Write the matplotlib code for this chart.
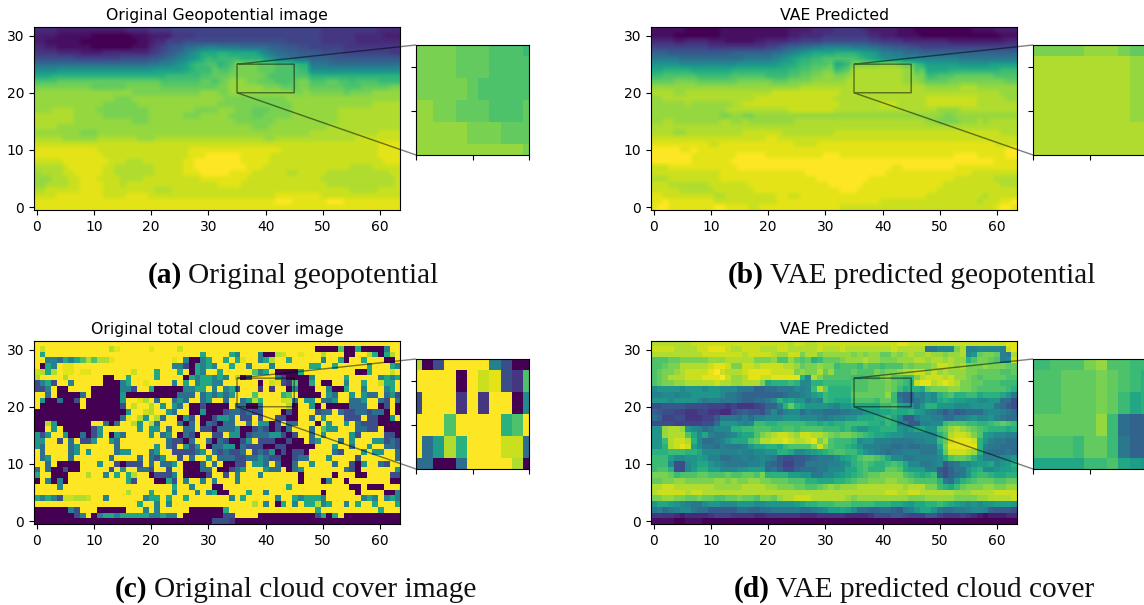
import numpy as np
from matplotlib import pyplot as plt

# levels a..z = 0..25 on viridis, rows listed from y=31 (top) down to y=0
geo_orig = """
ddddcccc cccccccc ddddeeee ffffffff ffffffff ffffffff ffeeeeee eeeedddd
ccccbbbb bbaaaaaa abbbcccc eeeeffff ffffffff ffffffff ffeeeeee dddddccc
ccbbbbbb aaaaaaaa aabbcddf ffgggggg gggggggg ggggffff ffeeeeee dddddddd
ddccbbbb bbaaaaaa abbbdefg hhjjkkll kkkkjjjj jiihhhgg ffffffee eeeeeeee
eeeedddd ccccdddd ddddefgh ijkmnppp qqpppppn lkjjiihh hhggggff ffffffee
gggggggf fffffffg gggghhij klmnoqrq rrrrqqqq onlkkjjj iiiihhhh hhhhhhhh
jjjjjjjj jjjjjjjj jjjjkkll mnoqrrss qrsuuuut ttsssrqq kkkjjjjj jjjjjjjj
mmmmnnnn nnnnnnnn nnnnnooo oopqrrrt sstuuuut ttssssrr mmmmmmmm mmmmmmmm
pppqqqqq qqqqqqqq qqqqqqqr rrrrrsst ttuuuuuu tsssssss qqqqqqqq qqqqqqqq
sssstttt tttttttt ttttttss ssssstts tuvvvuut ttssstuu sssttssr ssssrrrr
uuuuuuuu uutttttt uuuuuutt tttttttt uuvvvvvv uuutttuu ttttttss stttttuu
vvvvvvvv vvvvvvvv vuuuuuuu uuuuuvvv uuvvvvvv vvvvvuuv uuuuuutu uuuvvvvv
vvvvvvvv vvvvvvuu uvvvvvvv vvvvvvvv vuuuuuuu uuuuvvvv vvvvvvvv vvvvvvvv
vvvvvvvv vvvvuuuu uuvvvvvv vvvvvvvv uuuuuuuu uuuuuvvv vvvvvvvv vvvwwwww
vvvwwwwv vvvuuuuu uuuuvvvv vvvvuuuu vvvuuutt tuuuuvvv vvvvvwww wwwwwwww
wwwwwwwv vvvvuuuu uuuuvvvv vvuuuvvv vvuuuutt uuuuuvvv vvvvvwww wwwwwwww
wwwwwwwv vvvvvvvv vuuuvvvv vvvvvvvv vvvuuuuu uuvvvvvv vvvvvwww wwwwwwww
wwwwvvvv vvvvvvvv vvvvvvvv vvvvvvvv vvvvvvuu uvvvvvvv vvvwwwww wwwwwwww
vvvvvvvv uuuvvvvv vvvvvvvv vvvvvvvv vvvvvvvv vvvvvvvv wwwwwwww wwwwxxxx
wwwwwvvv vvvwwwww wwvvvwww wwwwwwww wwwwwwww vvwwwwww wwwwwwww xxxxxxxx
xxxxxxxx xxxxxxxx xxxxxxxx xxxxxxxx xxxxxxxx xxxxxxxx xxxxxxxx xxxxyyyy
yyyyyyyy yyyxxxxx xxxxxxxx xxxyyyyy yyyyyyyy yyyxxxxx xxxxxxxx xxxxyyyy
yyyyyyyy yyyyxxxx xxxxxxxx xxxyyyzz zzzzyyyy yxxxxxxx xxxxxxxx xxxxyyyy
xxxxxyyy yyyyyxxx wwwxxxxx xxyyzzzz zzzzyyyy yxxxxxxx xxxxxxxx xxxxxyyy
wwwwwxyy yyyyxxww wwwwwxxx xxyyzzzz zzzzzyyy xxxxxxxx xxxxxxxw wwwxxxxx
vwwwwxxy yyyyxxww wwwwwxxx xxyyyzzz zzyyyyxx xxxxwwxx xxxwwwww wwwwwwxx
vvvwwwxx yyyxxxxw wwwxxxxx xxxxxyyy yyyyyxxx xxxxxxxx xxwwwwww wwwwwwwx
vvwwwwxx yyyyxxxw xxxxxxxx xxxxxxxx yyyyxxxx xxxxxxxx xxxwwwww wwwwwwwx
wwxxxxxx yyyyxxxx xxxxxwww xxxxxxxx xxxxxxxx xxxxxxxx xxxxxxxw wwwwxxxx
xxxxyyyy yyyyxxxx yyyyxxxx xxxxxxxx xxxxxxxx xxyyyyyy yyxxxxxx xxxxxxxx
yyyyyyyy yyyyyyyy yyyyyyyy yyyyyyyy yyyyyyyy yyzzzyyy yyyzzzyy yyyyyyyy
yyyyyyyy yyyyyyyy yyyyyyyy yyyyyyyy yyyyyyyy yyyyyyyy yyyyyyyy yyyyyyyy
"""

geo_vae = """
bbbbbbaa aaaabbbb bbbbbbbb ccccdddd eeeeedcc cccbbbaa aaaaaaaa bbbbcccc
bbbbaaaa aaaabbbb bbbbbbbb ccddddee eeeeeedd cccbbbba aaaaaaaa aaaaabbb
ddddccdd ddcccbbb bbccdddd eeffffgg ggggggff eeeedddd ddddcccc ccccccdd
ffffffff ffeeeeee eeeeffgh iijjkkll lllkkkjj iihhhggf ffffffff ffffffff
iiihhhhh hhhhhhii iiiiijjk lmnopppp qqqqpoon llkkjjji iiiiiiii iiiiiiii
kkkkkjjj jjjjjjjj kkkkklmn opqqrrss ssssrqpo nmmmllll llllllkk kkkkkkkk
nnnnnmmm mmmmmmmn nnnnnnop pqrrssst pqruuuuu vvvuttrq oooooonn nnnooooo
ppqqqqqp ppppppqq qqqqqqqq rrssttuu rstwwwww wwwwvvst ppppqqqq qqqqqrrr
rrssssss rrrrrrss ssssrrrr ssttuuvv uuvwwwww wwwwvvuu rrsssttt ttttssss
ttttuuuu tttttttu uuuuuttt uuuuvvvv vvwwwwww wwwwvvvu ttttuuuu uuuuuutt
vvvvvvvv vvvvvvvv vvvvvvvv vvwwwwww wwwwwwww wwwwwwww vvvvvvww wvvvvvvv
wwwwvvww wwwwwwww wwwwwxxx xxxxxxxx xwwwwwww wwwwwwww wwwwwwww wwwwwvvv
vvwwwwww wwwwwwww wwxxxxxx xxxxxxxx wwwwwwww wwwwwwww xxxxxxxx xwwwwwvv
vvvvvvwv vvvvvvww xxxxxxxx xxxxxxxx xwwwwwww xxxwwwww xxxxxxxx xwwwwwww
vvvvvvvv vvvvvwww wwwwwwww xxxxxxxx wwwwwwww wwwwwwww wwvvvvww wwwwwwww
vvvvvvvv vvvvuuvv uuvvvvvv vvvvvvvv vvvvvvvv vvvvvvvv vvvuuvvv vvvvvvvv
vvwwvvvv vvvvwwvv wvvvvvvv vwwwwwww wwwwwwww wwwwwwww vvuuuuvv vwvwwwww
wwwwwwww wwwwwwww wwwwwwww wwwwwwww wwwwwwww wwwwwwww wwwwwwww wwwwwwww
wwwwvvww wwwwwwww xxxxxxxw wwwwwwww xxxxxxxx xxxxxxxx xxxxxxxx xxxxxwww
xxxxxxxx xxxxxxxx xxxxyyxx xxxxxxxx xxxxxxxx xxxxxxxx xxxxxxxx xxxxxxxx
yyyyyyyy yyxxyyyy yyyyyyyy yxxxxyyy yyyyyyyy yyyyyyyy yyyyyyyy yyyyxxxx
zzzzzyyz yyyyyyyy yyyyyyyy yyyyyyyy yyyyyyyy yyyyyyyy yyyyyyyy yyyyyyzz
zzzzzzzy yyyyyyyz zzzzyyyy yyyyyyzz zyyyyyyy yyyyyyyy yyyyyzzz zyyyyyzz
zzzzzzzy yyyyyyzz zzzzzzzz zzzzzzzz zzzzzzzz zzzzzzzz zzzzzzzz zzzzyyyy
xxxyyyyy yyyyyyyz zzzzzzzz zzzzzzzz zzzzzzzz zzyyzzzz zzzzzyyy yyyyyyyy
xxxxxxxx xxxxyyyy yyyyyyyy yyyzzzzz zzzzzzzz zyyyyyyy yyyyyyyy xxxxxxxx
wwwxxxxx xxxxyyyy yyyyyyyy yyyyyzzz zzzzzzyy yyyyyyyy yyyyyxxx xxxxwwww
xxxwwwww wwxxxxxx xyyyyyyy yyyyyyyz zzzzzyyy yyyyyyyy yyyxxxxx xxxxxwww
xxxxxwww wwwxxxxx xxyyyyyy yyyyyyyy yzzzyyyy yyyyyyyy yyxxxxxx xxxxxxxx
yyxxxxxx xxxwwxxx xxxxxxyy xxyyyyyy yyyyyyyy yyyyyyyy xxxxxxxx xxwxxxxx
yyzyyyyy yyyxxxxx xxxxxxyy yyyyyyyy yyyyyyyy xxxxxxxx xxxxxxxx xwxxxyyz
yzzyyyyy yyyzzyyy yxxyyyyy yyyyyyyy yxxxxxxx xxxxxxxx xxxxxxxx xxxxyzzy
"""

cloud_orig = """
zzzzzzzz zzzzzzzz zzzzzzzz zzzzzzzz zzzzzzzz zzzzzzzz zzzzzzzz zzzzzzzz
zxzzzzzz zzzzzwyz zzzzyzzz zxzzzzzz zzzzzzzz zzzzzzzz zaaaasaa paaaalzz
zpzzzzzz zzzzzzzz zzzzzzzz zzzzzpzz zzplzzzl aawxzzyz zzwzzzaa zzwpapwz
zzlljplp swswwyzz zzzzzzzz yzlaalpz zpzpyzzl pwzzpzzz zzlzzpaz zpzzzaaz
zaplzyyz zzzzzzzz zzzzzzzz llfaplpl zzpzzlzz zlzzzzzz ppzzpzzz zzpzzzpl
xwpwzyyz yyzzzzzz zxzzzpzz zpzaplzz pzzzzzsl pzaaaapz zzzzzzzz aapzzzxz
wzzzzwzz zzzzaazz pzzzzpzz zzaplppl plzwagzz zzlgaaaa lzzzzzpz zzzzlplp
glpgzzlz zzzzaaal pzzyzzzz lzpzlppl lzzzzzza zxygesaa pzaazzlz zpzzxppz
gglzaazz zzaaaaal lgzzpaaa aallppzl zlpgzzze zezzamaa azzlaapz zlzzzlpz
zzjzaaaa jzaaaaan aaaaaaaa ajjjzjnj njnzzzsz zzzqszaa aaznjzzn znjjzjng
znaajaag zaaaaaan zzywzjzz jnjzzjnz zjzzjowq zzzxxjzn nzjjnzzj jnzzjgzj
zaaaaaaa zaaaaaag zxzzwznz njzaagaa aazjjaaj zzzzwazz nazaaaaj jjzzagza
aaaaaaaa aaaaaaaa nzzxwzzn jzzaanaa agjjgjgg zzzagazz zgjjzjgg jjgjjaza
aaaaaaaa aaaaaaaj yzwnzwjz zangzaag nnjzggzg zzggaazz jznzzzgg gzggaanz
aawnaaaa aazzjajz zwnzwjzz zjajzajg ajjzzjzn nagzjjzz zaznzznz jgggaaaa
aaznzaaa aagnzzzz zznznnzj zzjjzgga jjjnaagj gagajzzz jzsnnzzz jjggzaaa
ngnzznaa jagnzanj zzzznzjn zajgazzg gznnagjj jnngagzz jznzzzzn gzzzzgga
nnzzgzjz ggnzznjz zzzzzzzj ggajzzja jgaagnzg ggaagaaz jnzzzjzn zzznngjg
njzzzzjn zzzzzzjz zzzzznzj gzngnzaj jnnajggg aaggaaaa azzznzzj zznzzjjg
zjzzzzjn znzzzzjn nzzzjnzz ggggjnzj gjggjzgj gnagagga zzzzjgzz znznnzzj
zjnzzzjz zzzzzjzz zzjzjgnz zgzjzznz jjjggjjn jggaagjj zzznzzzz gzzzzzzj
zzjzaaaa zzznzzga gggzjzjj nzaaajzj zaaggznn jzjaajzz nzzzjzzg anzzjgzz
jzjaagaa zzzzzgzn zzjjgzzg zzaaajjz aagjnzzz njjzajnz zzzzzzjg azzzzzzn
pzzaaazz zwzzlzpz pwzzaggg lzaaaagz zgzlzzzl zzzzzzaz zzzzazzz aazzzzgg
azlalazz zzzzzzzz pgzzzaap gzlzzlzl zzzlzzzz zzzzzzaz zzalzzaz zzzzzzaa
zzzzlzzz zzzzzzzz zzzzzzzz pzzlzzza azzzzzzz zzzzpzzz zzzzzzza azaaazzz
zzzzzzzz zzzzzzzz wzzzpzzz lzzzlzlp aazzzpzz lzzzzzzz zzazzzzz azzzzaal
plplgxxw wxzzlzzz zzzlppzp zzpzzzzz zzlzpzzz zzlzzplp pplzzzzz zlplzlpl
zzzzzzzz zzzzzzzz zzpzzlzl zzzzzzzz zzzzzzwz lzapzlzp pwlpzzlz pzzpzzzp
aaaaaalg zzzaaaaa zzzlzlzz zzzaaaaa apzzzzzz zzzzzzzz zpzzzzzz zzzzpzzz
aaaaaaag lzalpplp ppppllpl lzaaaaaa aggzzzza aaaaaaaa agpapzaa aaaaaaaa
aaaaaaaa aaaaaaaa aaaaaaaa aaaaaaag ggeaaaaa aaaaaaaa aaaaaaaa aaaaaaaa
"""

cloud_vae = """
wwwwwwwx xxxxxxxx xxxxxxxx wxxwwxxx xxxxxxxx xxxyyxxx xxxxxxxx xxxxxxyy
xxxxwwww xxyyyxww xxxwwwxx wwwwwxww wxwwwwww wwxwwwww kkmmmuwl lmmmmlxy
wwwwwwww wxxxxxxx wxxxxwvv xxuwwuvv vvvuvuvv ttvuvwvv wvvuvvwm ntuutlkw
sssttuuu uuvvvwww wwuuuvss vtstqrtt tuvvvwvv uuuvvvww vwwvwvvq suutslmx
sstuuwww wwxyyxuu xxwxxxxw wvtuuvuu rsssrtss rsssutuu uvxxwvwu uuvuuutt
stuuvwxx xxyzxwww xyyyyxxx xuvuuwtv ssstsssu tuuvwwxx vxvwvvvu uttttsst
stuwwwxx xyyyzxvv wyyxxyyy yyqmwuss sssrrsss uvssrruw xxxwxvvu tsttttss
stuuvvww wwwxwwvv wwwupqqq rqmmqqrr rrrssstt tutsrqxy ywxyxwuu ttsssrrr
mnnnnmnn nmnnmmmk kkiijjkk kmlmrwtq qqqssstt tutrpqqp tuuuvvuu tsssssrq
llmmlmmn nnnnmkkj iiiiiiij kklmoprq qqqttttt tvrjiiml nmqrsqqr rpqqqpnk
nnnmnnnn mkllkkkj iijjkmqo pnnkmlrq pppssssr ttrkiikl nmpqpoon nmmnnjjg
gghhhhgg ggfffefe eefgiilq tqpnnnnm lnnppppp rrsponkn qqnnnmmm nnnnkjhg
ihggffee ffeeddgh ihhgjmjl mmjlkkjj jkkllnoo ppqppqon lkjhjhij jjlmmlkj
jiffggee effhkkkj ljllmmmn nnmmmlkl mmnnpppq qrpmhhkm mlljjllm nmmnlkjj
ggggffff fggjnnnm lmrrqqrr rrrqqpqp qqrrrrqq prqklhhl lmmrsssr rqqrstsr
nnvwwvnm ljkmmmqq rrsssrrs srssssrr rqrpnnpp qqqnmnpp nnstvwvu tsrqqqpq
nnvwwwsp mplkklmo ppsuvwxx wvxxwwvu tuutsrqp ponnmmmm mmqswxxw usonmmll
nnrwxxwq mjjklnpp pstwwxxy xwwxyuws rrrqmnnl llkkkkll mmrtxyyy xqnlkkjj
nnqwxyxo mkkjlkkk lnppqqpr ssssuxus rrqpnlll kkjjkjjk kkpuyyyy yqlkkjjj
qqqrrrqq pmmmlllm llmmnnqq pmmnopqr ssrrpnml kjkklllk kkntxxxw vqkjjjkj
rrrommnn onlljjkk lklmlkhg ghhijkkk mopqstts rpmmkkll llmpstts qnlllmmn
rrrmggmn ppnmlkkk kllmjihf fhhkkkkl lmnqrsrq qrsrpmmk klmhjkmm noopmnoq
rssqggmo qqoommmn nooojkig gijjjkkm mmpprsqq qttspooo llhgikkn pqmmnoop
uuutrsss ttssstss ttsuqqqq oonnkkmm nopqrstt uuuusrqp qrigijkn qrrqppqq
ttuuvvuu uuuvvuvu uvvuuttt sssqqppp qqrsttuu uvvuutss ssqkjnqr stttsstt
wwxxwwww wwwvvvvv wwwwvvuu uttsstuv uvvvwwww wwwwvwww uurqprtu uuvvuuvv
wxxxxxwx xwwwwwww wwwwwwww wwwwwwww wwwwwwww wxxwwxxw wwwwwvvv wwwwxxxx
uuvvuutt uttssttu ttsuutvw wxxxwwww wwvuvvvv vvvvvuuu vvvvvuuu uvvwwwwx
npponmlk kmnnmmmn nnmmnnnn nopqqrrr sssrrrrq qqpponpp qqrqponm nmnnooon
kljklmmk jjhhhhhj jiijjkkk kkjjklmo opomjjii jjihklnp pnkjjkkl mmlihhhg
eeeedcdd ddefffee eeddeeee eedddeee eeddddeg gghhgfff hhfeeefe dcbcccdd
bbbbaabb baaaaaaa aaaaaaaa aaaaaaaa aaaaaaaa aaaaaaaa aaaaaaaa aaaaaaaa
"""

titles = ['Original Geopotential image', 'VAE Predicted', 'Original total cloud cover image', 'VAE Predicted']
caption_tags = ['(a)', '(b)', '(c)', '(d)']
caption_texts = ['Original geopotential', 'VAE predicted geopotential', 'Original cloud cover image', 'VAE predicted cloud cover']
x_ticks = [0, 10, 20, 30, 40, 50, 60]
y_ticks = [0, 10, 20, 30]

W, H = 1144, 605
# left, top of main axes and of inset, caption x, caption baseline (pixels)
places = [(34, 27, 416, 45, 148, 283),
          (651, 27, 1033, 45, 728, 283),
          (34, 341, 416, 359, 115, 597),
          (651, 341, 1033, 359, 734, 597)]
smooth = ['bilinear', 'bilinear', 'nearest', 'nearest']


def leggi(txt):
    righe = [r.replace(' ', '') for r in txt.strip().splitlines()]
    return np.array([[(ord(c) - 97) / 25 for c in r] for r in righe])[::-1]


def box(l, t, w, h):
    return [l / W, 1 - (t + h) / H, w / W, h / H]


fig = plt.figure(figsize=(W / 100, H / 100), dpi=100)
renderer = fig.canvas.get_renderer()

for i, dati in enumerate([geo_orig, geo_vae, cloud_orig, cloud_vae]):
    l, t, il, it, cx, cy = places[i]
    img = leggi(dati)
    ax = fig.add_axes(box(l, t, 366, 183))
    ax.imshow(img, origin='lower', cmap='viridis', vmin=0, vmax=1, aspect='auto', interpolation=smooth[i])
    ax.set_xticks(x_ticks)
    ax.set_yticks(y_ticks)
    ax.set_title(titles[i], fontsize=11.3, pad=5)

    axins = fig.add_axes(box(il, it, 113, 110))
    axins.imshow(img, origin='lower', cmap='viridis', vmin=0, vmax=1, aspect='auto', interpolation='nearest')
    axins.set_xlim(35, 45)
    axins.set_ylim(20, 25)
    axins.set_xticks([35, 40, 45])
    axins.set_yticks([22, 24])
    axins.set_xticklabels([])
    axins.set_yticklabels([])
    ind = ax.indicate_inset_zoom(axins, edgecolor='black')
    # only the two lines from the left corners, as in the paper figure
    for n, conn in enumerate(ind.connectors):
        conn.set_visible(n < 2)

    # caption: bold tag, then normal text right after it
    tag = fig.text(cx / W, 1 - cy / H, caption_tags[i], family='Liberation Serif', fontsize=21.2, weight='bold', va='baseline')
    fine = tag.get_window_extent(renderer).x1
    fig.text((fine + 6) / W, 1 - cy / H, caption_texts[i], family='Liberation Serif', fontsize=21.2, va='baseline', color='#111111')

plt.savefig('out.png', dpi=100)
